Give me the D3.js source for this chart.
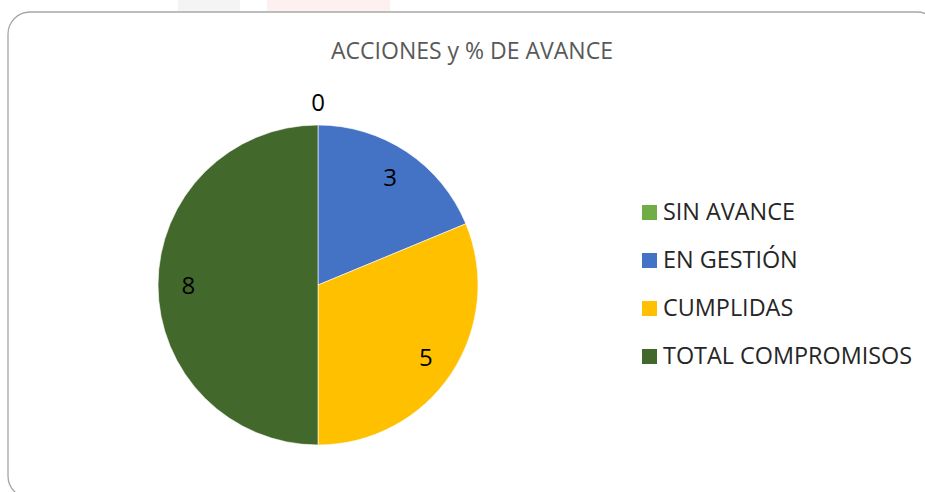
<!DOCTYPE html>
<html>
<head>
<meta charset="utf-8">
<script src="https://cdn.jsdelivr.net/npm/d3@7"></script>
<style>
  html, body { margin: 0; padding: 0; background: #fff; }
  svg { display: block; font-family: "Open Sans", "Liberation Sans", sans-serif; }
</style>
</head>
<body>
<svg id="chart" width="925" height="492"></svg>
<script>
'use strict';

// data
var aCategories = ['SIN AVANCE', 'EN GESTIÓN', 'CUMPLIDAS', 'TOTAL COMPROMISOS'];
var aValues = [0, 3, 5, 8];
var aColors = ['#70AD47', '#4472C4', '#FFC000', '#43682B'];
var strTitle = 'ACCIONES y % DE AVANCE';

var svg = d3.select('#chart');

// faded header left over from the page behind the chart
svg.append('rect').attr('x', 178).attr('y', 0).attr('width', 62).attr('height', 11).attr('fill', '#f4f4f4');
svg.append('rect').attr('x', 267).attr('y', 0).attr('width', 123).attr('height', 11).attr('fill', '#fcf0f0');

// chart frame
svg.append('rect')
    .attr('x', 8).attr('y', 12)
    .attr('width', 931).attr('height', 486)
    .attr('rx', 22).attr('ry', 22)
    .attr('fill', '#fff')
    .attr('stroke', '#a6a6a6')
    .attr('stroke-width', 1.3);

svg.append('text')
    .attr('x', 472).attr('y', 59)
    .attr('text-anchor', 'middle')
    .attr('fill', '#595959')
    .style('font-size', '23px')
    .text(strTitle);

var cx = 318, cy = 285, radius = 160;

var pie = d3.pie()
    .sort(null)
    .value(d => d.value);

var arcs = pie(aCategories.map((c, i) => ({ label: c, value: aValues[i], color: aColors[i] })));

var arc = d3.arc().innerRadius(0).outerRadius(radius);
var labelArc = d3.arc().innerRadius(radius * 0.81).outerRadius(radius * 0.81);
var outerArc = d3.arc().innerRadius(radius * 1.14).outerRadius(radius * 1.14);

var g = svg.append('g').attr('transform', `translate(${cx},${cy})`);

g.selectAll('path')
  .data(arcs)
  .join('path')
    .attr('d', arc)
    .attr('fill', d => d.data.color)
    .attr('stroke', '#fff')
    .attr('stroke-width', d => d.value > 0 ? 0.6 : 0);

g.selectAll('text.lbl')
  .data(arcs)
  .join('text')
    .attr('class', 'lbl')
    .attr('transform', d => `translate(${(d.value > 0 ? labelArc : outerArc).centroid(d)})`)
    .attr('text-anchor', 'middle')
    .attr('dy', '0.36em')
    .attr('fill', '#000')
    .style('font-size', '24px')
    .text(d => d.value);

// legend
var legend = svg.append('g').attr('transform', 'translate(642,212)');
var item = legend.selectAll('g')
  .data(aCategories)
  .join('g')
    .attr('transform', (d, i) => `translate(0,${i * 48})`);

item.append('rect')
    .attr('x', 0).attr('y', -7)
    .attr('width', 15).attr('height', 15)
    .attr('fill', (d, i) => aColors[i]);

item.append('text')
    .attr('x', 21).attr('y', 0)
    .attr('dy', '0.36em')
    .attr('fill', '#262626')
    .style('font-size', '23.4px')
    .text(d => d);
</script>
</body>
</html>
